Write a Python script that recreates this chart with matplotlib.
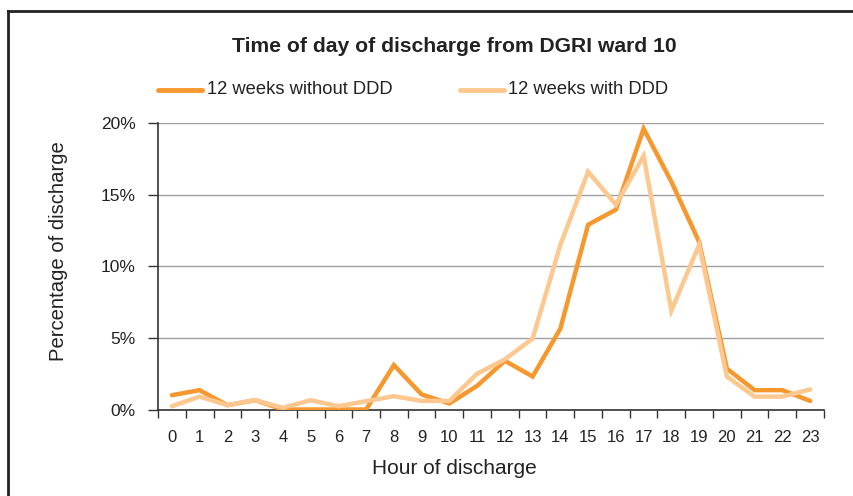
import matplotlib
matplotlib.use("Agg")
from matplotlib import pyplot as plt
from matplotlib.lines import Line2D
import numpy as np

plt.rcParams['font.family'] = ['Liberation Sans', 'DejaVu Sans']

hours = list(range(24))
without_ddd = [1.0, 1.35, 0.3, 0.65, 0.0, 0.0, 0.0, 0.0, 3.1, 1.05, 0.42, 1.65,
               3.4, 2.3, 5.65, 12.9, 13.95, 19.6, 15.9, 11.7, 2.85, 1.35, 1.35, 0.6]
with_ddd = [0.23, 0.9, 0.3, 0.65, 0.12, 0.65, 0.23, 0.58, 0.93, 0.6, 0.6, 2.5,
            3.5, 4.95, 11.5, 16.6, 14.3, 17.7, 6.9, 11.5, 2.3, 0.9, 0.9, 1.4]
series_names = ['12 weeks without DDD', '12 weeks with DDD']
yticks = [0, 5, 10, 15, 20]

c_dark = '#F7982F'
c_light = '#FDC88F'
txt = '#222222'

W, H = 854, 496
fig = plt.figure(figsize=(W / 100, H / 100), dpi=100)
ax = fig.add_axes([158 / W, 1 - 409.5 / H, (824 - 158) / W, (409.5 - 123) / H])

x = np.array(hours)
ax.plot(x, without_ddd, color=c_dark, lw=3.2, solid_capstyle='round', solid_joinstyle='miter', zorder=3)
ax.plot(x, with_ddd, color=c_light, lw=3.2, solid_capstyle='round', solid_joinstyle='miter', zorder=4)

ax.set_xlim(-0.5, 23.5)
ax.set_ylim(0, 20)
ax.set_yticks(yticks)
ax.set_yticklabels([f'{v}%' for v in yticks])
ax.set_xticks(hours)
ax.set_xticklabels([str(h) for h in hours])
ax.set_xticks(np.arange(-0.5, 24, 1), minor=True)
ax.tick_params(axis='x', which='major', length=0, labelsize=12, pad=15, colors=txt)
ax.tick_params(axis='x', which='minor', length=6, width=1, direction='out', color='#333333')
ax.tick_params(axis='y', length=7, width=1, direction='out', labelsize=12.5, pad=9, colors=txt)
ax.tick_params(axis='y', color='#333333')

ax.grid(axis='y', color='#A0A0A0', lw=1)
ax.set_axisbelow(True)
for s in ['top', 'right']:
    ax.spines[s].set_visible(False)
for s in ['left', 'bottom']:
    ax.spines[s].set_color('#333333')
    ax.spines[s].set_linewidth(1.2)

fig.text(454 / W, 1 - 468 / H, 'Hour of discharge', fontsize=15, color=txt,
         ha='center', va='center')
fig.text(59 / W, 1 - 251 / H, 'Percentage of discharge', rotation=90, fontsize=14.6,
         color=txt, ha='center', va='center')

fig.text(454 / W, 1 - 47 / H, 'Time of day of discharge from DGRI ward 10',
         fontsize=15.2, fontweight='bold', color=txt, ha='center', va='center')

# legend
leg_y = 1 - 90 / H
fig.add_artist(Line2D([158 / W, 202 / W], [leg_y, leg_y], color=c_dark, lw=3.5,
                      solid_capstyle='round', transform=fig.transFigure))
fig.text(207 / W, leg_y, series_names[0], fontsize=13.2, color=txt, ha='left', va='center')
fig.add_artist(Line2D([460 / W, 504 / W], [leg_y, leg_y], color=c_light, lw=3.5,
                      solid_capstyle='round', transform=fig.transFigure))
fig.text(508 / W, leg_y, series_names[1], fontsize=13.2, color=txt, ha='left', va='center')

# frame round the chart
top = 1 - 11 / H
fig.add_artist(Line2D([8 / W, 1.0], [top, top], color=txt, lw=2, transform=fig.transFigure))
fig.add_artist(Line2D([8 / W, 8 / W], [0, top], color=txt, lw=2, transform=fig.transFigure))

fig.savefig('out.png', dpi=100)
